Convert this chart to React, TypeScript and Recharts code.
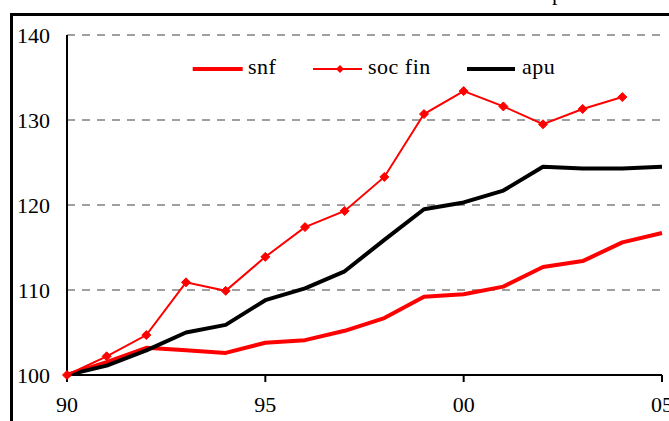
import React from 'react';
import { LineChart, Line, XAxis, YAxis, CartesianGrid, Customized } from 'recharts';

const years = [1990, 1991, 1992, 1993, 1994, 1995, 1996, 1997, 1998, 1999, 2000, 2001, 2002, 2003, 2004, 2005];
const snf = [100, 101.5, 103.2, 102.9, 102.6, 103.8, 104.1, 105.2, 106.7, 109.2, 109.5, 110.4, 112.7, 113.4, 115.6, 116.7];
const socFin = [100, 102.2, 104.7, 110.9, 109.9, 113.9, 117.4, 119.3, 123.3, 130.7, 133.4, 131.6, 129.5, 131.3, 132.7, null];
const apu = [100, 101.1, 102.9, 105.0, 105.9, 108.8, 110.2, 112.2, 115.9, 119.5, 120.3, 121.7, 124.5, 124.3, 124.3, 124.5];
const yTicks = [100, 110, 120, 130, 140];
const xTicks = [1990, 1995, 2000, 2005];
const xTickLabels = ['90', '95', '00', '05'];
const seriesNames = ['snf', 'soc fin', 'apu'];
const titleFragment = 'p';

const data = years.map((y, i) => ({ year: y, snf: snf[i], socFin: socFin[i], apu: apu[i] }));

const FONT = 'Liberation Serif';

const Diamond = (props: any) => {
  const { cx, cy, index } = props;
  if (cx == null || cy == null || isNaN(cx) || isNaN(cy)) return <g key={`d${index}`} />;
  const r = 4.5;
  return (
    <polygon
      key={`d${index}`}
      points={`${cx},${cy - r} ${cx + r},${cy} ${cx},${cy + r} ${cx - r},${cy}`}
      fill="#ff0000"
      stroke="#ff0000"
      strokeWidth={1}
    />
  );
};

const Decorations = () => (
  <g>
    <rect x={11.5} y={14.5} width={720} height={460} fill="none" stroke="#000" strokeWidth={3} />
    <text x={552} y={0} fontFamily={FONT} fontSize={22} fill="#000">{titleFragment}</text>
    <g transform="translate(180,54)">
      <line x1={12.7} x2={62.7} y1={15} y2={15} stroke="#ff0000" strokeWidth={4} />
      <text x={68} y={20} fontFamily={FONT} fontSize={22} letterSpacing={0.5} fill="#000">{seriesNames[0]}</text>
      <line x1={133} x2={182} y1={15} y2={15} stroke="#ff0000" strokeWidth={2} />
      <polygon points="160,11 164,15 160,19 156,15" fill="#ff0000" />
      <text x={188} y={20} fontFamily={FONT} fontSize={22} letterSpacing={0.5} fill="#000">{seriesNames[1]}</text>
      <line x1={287} x2={335} y1={15} y2={15} stroke="#000" strokeWidth={4} />
      <text x={342} y={20} fontFamily={FONT} fontSize={22} letterSpacing={0.5} fill="#000">{seriesNames[2]}</text>
    </g>
  </g>
);

const tickStyle = { fill: '#000', fontFamily: FONT, fontSize: 22 } as any;

export default function App() {
  return (
    <div>
      <style>{'body { margin: 0; }'}</style>
      <LineChart width={669} height={421} data={data} margin={{ top: 35, right: 7, bottom: 6, left: 0 }}>
        <CartesianGrid vertical={false} stroke="#808080" strokeWidth={1.5} strokeDasharray="8 7" />
        <XAxis
          dataKey="year"
          type="number"
          domain={[1990, 2005]}
          ticks={xTicks}
          tickFormatter={(v: number) => xTickLabels[xTicks.indexOf(v)] ?? ''}
          height={40}
          tickSize={7}
          tickMargin={14}
          axisLine={{ stroke: '#000', strokeWidth: 2 }}
          tickLine={{ stroke: '#000', strokeWidth: 2 }}
          tick={tickStyle}
          interval={0}
        />
        <YAxis
          type="number"
          domain={[100, 140]}
          ticks={yTicks}
          width={67}
          tickLine={false}
          tickSize={6}
          tickMargin={11}
          axisLine={{ stroke: '#000', strokeWidth: 2 }}
          tick={tickStyle}
          interval={0}
        />
        <Line dataKey="snf" name={seriesNames[0]} stroke="#ff0000" strokeWidth={4} dot={false} isAnimationActive={false} strokeLinejoin="round" />
        <Line dataKey="apu" name={seriesNames[2]} stroke="#000000" strokeWidth={4} dot={false} isAnimationActive={false} strokeLinejoin="round" />
        <Line dataKey="socFin" name={seriesNames[1]} stroke="#ff0000" strokeWidth={2} dot={<Diamond />} isAnimationActive={false} />
        <Customized component={Decorations} />
      </LineChart>
    </div>
  );
}
